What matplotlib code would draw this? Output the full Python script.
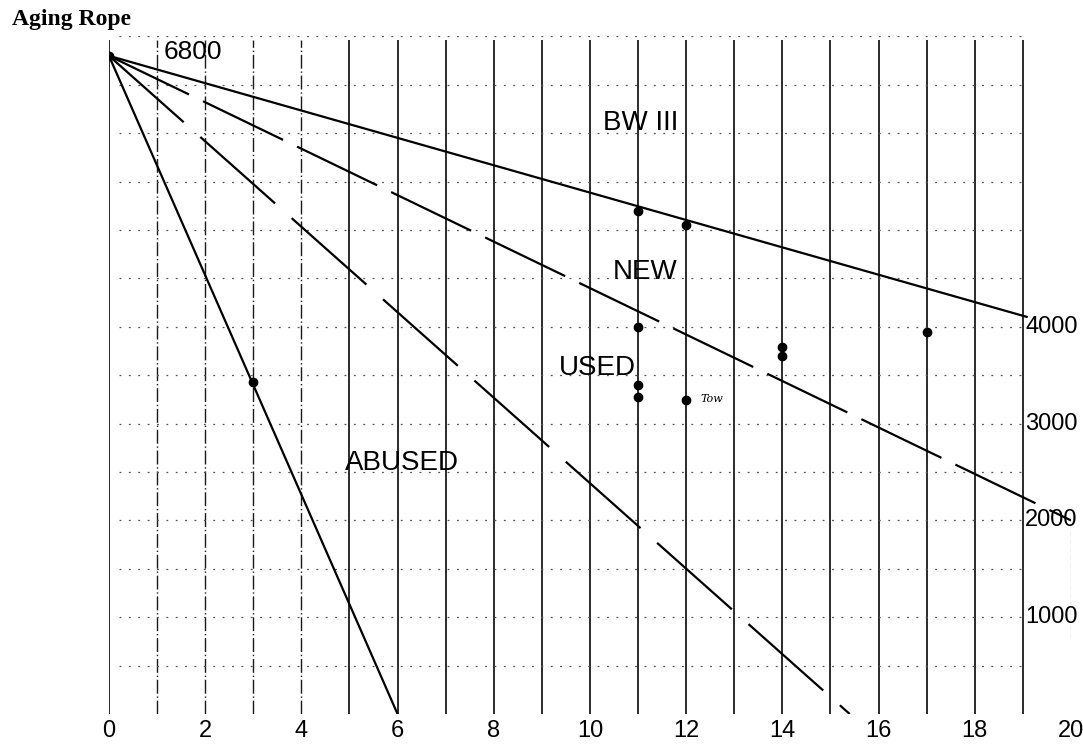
import matplotlib.pyplot as plt
import numpy as np

# the four rope curves, all start at 6800 at x=0
curve_names = ["BW III", "NEW", "USED", "ABUSED"]
curve_end_x = [19.1, 20.0, 15.4, 6.0]
curve_end_y = [4100, 2000, 0, 0]
start_x, start_y = 0, 6800

# measured points
pts_x = [0, 3, 11, 11, 11, 11, 12, 12, 14, 14, 17]
pts_y = [6800, 3430, 5200, 4000, 3400, 3280, 5050, 3240, 3790, 3700, 3950]

xtick_vals = [0, 2, 4, 6, 8, 10, 12, 14, 16, 18, 20]
ylabel_vals = [1000, 2000, 3000, 4000]

narrow = ["Liberation Sans", "DejaVu Sans"]
ink = "#1a1a1a"

fig = plt.figure(figsize=(10.83, 7.45), dpi=100)
ax = fig.add_axes([0.1006, 0.0416, 0.8883, 0.9095])
ax.set_xlim(0, 20)
ax.set_ylim(0, 7000)
for s in ax.spines.values():
    s.set_visible(False)

# paper grid: vertical lines every unit, dotted horizontal every 500
for xv in range(0, 20):
    if xv in (1, 2, 3, 4):
        ax.vlines(xv, 0, 6960, color=ink, lw=1.0, linestyles=(0, (10, 2, 1, 2)))
    else:
        ax.vlines(xv, 0, 6960, color=ink, lw=1.3)
ax.vlines(20, 800, 2050, color=ink, lw=0.8, linestyles=(0, (4, 3)))
ax.hlines(np.arange(500, 7001, 500), 0.2, 19, color="#555555", lw=0.9,
          linestyles=(0, (1.5, 6)))

# curves
styles = ["-", (0, (40, 7)), (0, (45, 10)), "-"]
for name, ex, ey, ls in zip(curve_names, curve_end_x, curve_end_y, styles):
    ax.plot([start_x, ex], [start_y, ey], color="black", lw=1.6, ls=ls,
            solid_capstyle="butt")

ax.plot(pts_x, pts_y, "o", color="black", ms=6, zorder=5)

# labels
lbl = dict(family=narrow, fontsize=20, color="black", va="center", ha="center")
ax.text(11.05, 6105, "BW III", **lbl)
ax.text(11.15, 4566, "NEW", **lbl)
ax.text(10.15, 3574, "USED", **lbl)
ax.text(6.1, 2593, "ABUSED", **lbl)
ax.text(1.75, 6840, "6800", family=narrow, fontsize=19, va="center", ha="center")
ax.text(12.3, 3250, "Tow", family="DejaVu Serif", style="italic", fontsize=8,
        va="center", ha="left")

for v in ylabel_vals:
    ax.text(19.05, v, str(v), family=narrow, fontsize=17, va="center", ha="left")

ax.set_yticks([])
ax.set_xticks(xtick_vals)
ax.set_xticklabels([str(v) for v in xtick_vals], family=narrow, fontsize=17)
ax.tick_params(axis="x", length=0, pad=4)

fig.text(0.011, 0.988, "Aging Rope", family="Liberation Serif", fontweight="bold",
         fontsize=17, va="top", ha="left")

fig.savefig("out.png", dpi=100)
